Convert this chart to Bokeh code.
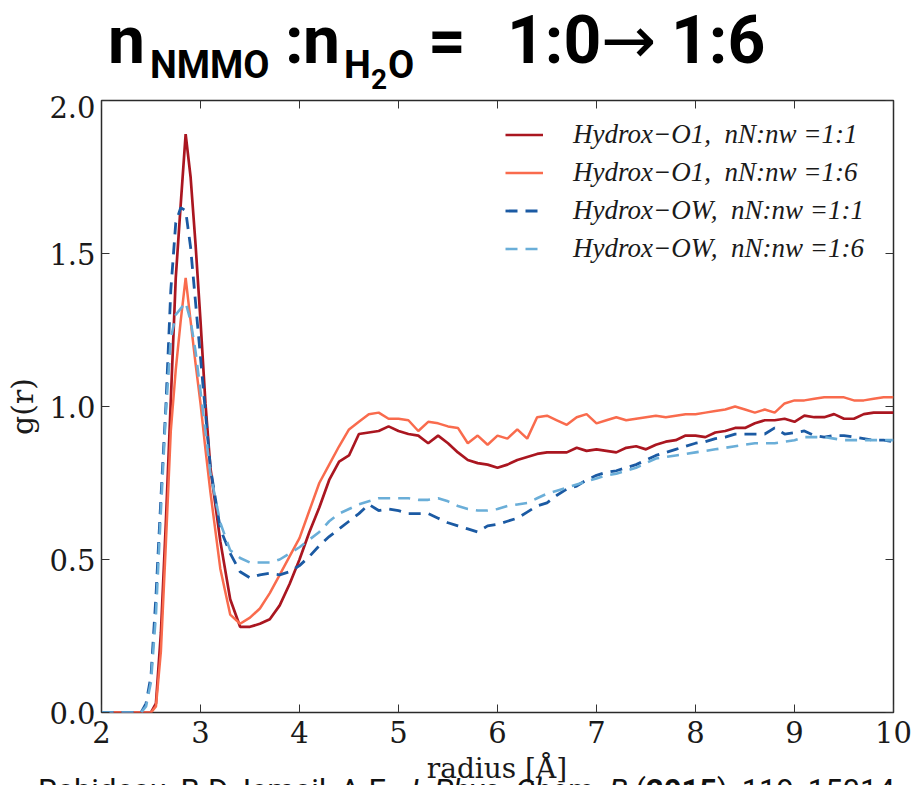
from bokeh.plotting import figure
from bokeh.layouts import column
from bokeh.models import (Range1d, LinearAxis, FixedTicker, Legend, LegendItem,
                          CustomJSTickFormatter, PrintfTickFormatter, Div)
from bokeh.embed import file_html
from bokeh.resources import INLINE

# ---------------- data ----------------
radius = [2.0, 2.4, 2.45, 2.5, 2.55, 2.6, 2.65, 2.7, 2.75, 2.8, 2.85, 2.9, 2.95, 3.0, 3.05, 3.1,
          3.2, 3.3, 3.4, 3.5, 3.6, 3.7, 3.8, 3.9, 4.0, 4.1, 4.2, 4.3, 4.4, 4.5, 4.6, 4.7, 4.8, 4.9,
          5.0, 5.1, 5.2, 5.3, 5.4, 5.5, 5.6, 5.7, 5.8, 5.9, 6.0, 6.1, 6.2, 6.3, 6.4, 6.5, 6.6, 6.7,
          6.8, 6.9, 7.0, 7.1, 7.2, 7.3, 7.4, 7.5, 7.6, 7.7, 7.8, 7.9, 8.0, 8.1, 8.2, 8.3, 8.4, 8.5,
          8.6, 8.7, 8.8, 8.9, 9.0, 9.1, 9.2, 9.3, 9.4, 9.5, 9.6, 9.7, 9.8, 9.9, 10.0]

# Hydrox-O1, nN:nw = 1:1
g_o1_11 = [0.0, 0.0, 0.0, 0.0, 0.03, 0.26, 0.62, 1.02, 1.42, 1.66, 1.89, 1.75, 1.53, 1.28, 1.01, 0.80,
           0.56, 0.37, 0.28, 0.28, 0.29, 0.305, 0.35, 0.42, 0.50, 0.59, 0.67, 0.76, 0.82, 0.84, 0.91, 0.915, 0.92, 0.935,
           0.92, 0.91, 0.905, 0.88, 0.905, 0.88, 0.85, 0.825, 0.815, 0.81, 0.80, 0.81, 0.825, 0.835, 0.845, 0.85, 0.85, 0.85,
           0.865, 0.855, 0.86, 0.855, 0.85, 0.865, 0.87, 0.86, 0.875, 0.885, 0.89, 0.905, 0.905, 0.90, 0.915, 0.92, 0.93, 0.93,
           0.945, 0.955, 0.955, 0.96, 0.95, 0.97, 0.965, 0.965, 0.975, 0.96, 0.96, 0.975, 0.98, 0.98, 0.98]

# Hydrox-O1, nN:nw = 1:6
g_o1_16 = [0.0, 0.0, 0.0, 0.0, 0.02, 0.20, 0.55, 0.92, 1.12, 1.28, 1.42, 1.28, 1.14, 1.01, 0.86, 0.72,
           0.47, 0.32, 0.29, 0.31, 0.34, 0.39, 0.45, 0.51, 0.57, 0.66, 0.75, 0.81, 0.87, 0.925, 0.95, 0.975, 0.98, 0.96,
           0.96, 0.955, 0.92, 0.95, 0.945, 0.935, 0.93, 0.88, 0.905, 0.875, 0.905, 0.895, 0.925, 0.895, 0.965, 0.97, 0.955, 0.94,
           0.965, 0.975, 0.945, 0.955, 0.965, 0.955, 0.96, 0.965, 0.97, 0.965, 0.97, 0.975, 0.975, 0.98, 0.985, 0.99, 1.0, 0.99,
           0.98, 0.99, 0.98, 1.01, 1.02, 1.02, 1.025, 1.03, 1.03, 1.03, 1.02, 1.02, 1.025, 1.03, 1.03]

# Hydrox-OW, nN:nw = 1:1
g_ow_11 = [0.0, 0.0, 0.03, 0.12, 0.38, 0.70, 1.00, 1.38, 1.60, 1.65, 1.64, 1.52, 1.34, 1.16, 0.98, 0.80,
           0.60, 0.52, 0.46, 0.44, 0.45, 0.455, 0.45, 0.46, 0.48, 0.51, 0.545, 0.575, 0.60, 0.625, 0.65, 0.68, 0.66, 0.665,
           0.66, 0.65, 0.65, 0.65, 0.635, 0.62, 0.61, 0.60, 0.59, 0.61, 0.615, 0.625, 0.635, 0.655, 0.675, 0.685, 0.71, 0.73,
           0.74, 0.76, 0.775, 0.785, 0.79, 0.80, 0.81, 0.825, 0.84, 0.85, 0.86, 0.87, 0.88, 0.885, 0.895, 0.90, 0.91, 0.91,
           0.91, 0.91, 0.93, 0.91, 0.915, 0.92, 0.905, 0.90, 0.905, 0.905, 0.90, 0.895, 0.89, 0.89, 0.885]

# Hydrox-OW, nN:nw = 1:6
g_ow_16 = [0.0, 0.0, 0.02, 0.10, 0.32, 0.66, 0.98, 1.22, 1.30, 1.32, 1.34, 1.28, 1.18, 1.05, 0.92, 0.78,
           0.62, 0.53, 0.505, 0.49, 0.49, 0.49, 0.50, 0.52, 0.54, 0.565, 0.59, 0.625, 0.65, 0.665, 0.68, 0.69, 0.70, 0.70,
           0.70, 0.70, 0.695, 0.695, 0.70, 0.69, 0.675, 0.665, 0.66, 0.66, 0.665, 0.675, 0.68, 0.685, 0.70, 0.715, 0.725, 0.735,
           0.745, 0.755, 0.765, 0.775, 0.78, 0.79, 0.80, 0.815, 0.83, 0.835, 0.84, 0.845, 0.85, 0.855, 0.86, 0.865, 0.87, 0.875,
           0.88, 0.88, 0.88, 0.885, 0.89, 0.90, 0.90, 0.90, 0.895, 0.89, 0.89, 0.89, 0.89, 0.89, 0.89]

series_labels = ["Hydrox\u2212O1,  nN:nw =1:1",
                 "Hydrox\u2212O1,  nN:nw =1:6",
                 "Hydrox\u2212OW,  nN:nw =1:1",
                 "Hydrox\u2212OW,  nN:nw =1:6"]
x_ticks = [2, 3, 4, 5, 6, 7, 8, 9, 10]
y_ticks = [0.0, 0.5, 1.0, 1.5, 2.0]
x_label = "radius [\u00c5]"
y_label = "g(r)"
citation_parts = ["Rabideau, B.D. Ismail, A.E. ", "J. Phys. Chem. B", " (", "2015", "), 119, 15014"]

# title pieces: n_NMMO : n_H2O = 1:0 -> 1:6
title_pieces = ["n", "NMMO", ":", "n", "H", "2", "O", "=", "1:0", "\u2192", "1:6"]

# ---------------- layout constants (page pixels) ----------------
PAGE_W = 912
TOP_H = 95          # title strip: page y 0..95
MAIN_H = 659        # plot: page y 95..754
BOT_H = 785 - TOP_H - MAIN_H   # bottom strip: page y 754..785
TICK_FONT = "DejaVu Serif"

# x, baseline y, font size, family, weight for each title piece
title_style = [(108, 63, 66, "Roboto", "bold"),
               (150, 78, 38, "Roboto", "bold"),
               (285, 63, 66, "Roboto", "bold"),
               (303, 63, 66, "Roboto", "bold"),
               (344, 78, 38, "Roboto", "bold"),
               (371, 89, 28, "Roboto", "bold"),
               (388, 78, 38, "Roboto", "bold"),
               (428, 63, 66, "Roboto", "bold"),
               (507, 63, 66, "Roboto", "bold"),
               (601, 63, 66, "DejaVu Sans", "normal"),
               (671, 63, 66, "Roboto", "bold")]


def css(size, family, weight, style="normal"):
    return (f"font-family:'{family}';font-size:{size}px;font-weight:{weight};"
            f"font-style:{style}")


def svg_text(txt, x, y, size, family, weight, anchor="start", color="#000"):
    return (f'<text x="{x}" y="{y}" text-anchor="{anchor}" fill="{color}" '
            f'style="{css(size, family, weight)}">{txt}</text>')


top_svg = (f'<svg xmlns="http://www.w3.org/2000/svg" width="{PAGE_W}" height="{TOP_H}" '
           f'style="display:block">'
           + "".join(svg_text(t, *s) for t, s in zip(title_pieces, title_style))
           + '</svg>')
top = Div(text=top_svg, width=PAGE_W, height=TOP_H, margin=(0, 0, 0, 0),
          styles={"overflow": "hidden", "background": "white"})

# ---------------- main plot ----------------
p = figure(width=PAGE_W, height=MAIN_H, output_backend="svg", toolbar_location=None,
           x_range=Range1d(2, 10), y_range=Range1d(0, 2),
           min_border_left=101, min_border_right=19, min_border_top=5, min_border_bottom=42,
           background_fill_color="white", border_fill_color="white")
p.grid.visible = False
p.outline_line_color = "#2a2a2a"
p.outline_line_width = 1.5


def style_axis(ax, ticks, show_labels):
    ax.ticker = FixedTicker(ticks=ticks, minor_ticks=[])
    ax.axis_line_color = None
    ax.major_tick_in = 8
    ax.major_tick_out = 0
    ax.major_tick_line_color = "#333333"
    ax.major_tick_line_width = 1
    ax.minor_tick_line_color = None
    ax.major_label_text_font = TICK_FONT
    ax.major_label_text_font_size = "29px"
    ax.major_label_text_color = "#1a1a1a"
    if not show_labels:
        ax.formatter = CustomJSTickFormatter(code="return ''")
        ax.major_label_standoff = 0
        ax.major_label_text_font_size = "0px"


xb = p.xaxis[0]
yl = p.yaxis[0]
style_axis(xb, x_ticks, True)
style_axis(yl, y_ticks, True)
yl.formatter = PrintfTickFormatter(format="%.1f")
xb.major_label_standoff = 8
yl.major_label_standoff = 6
yl.axis_label = y_label
yl.axis_label_text_font = TICK_FONT
yl.axis_label_text_font_size = "30px"
yl.axis_label_text_font_style = "normal"
yl.axis_label_text_color = "#1a1a1a"
yl.axis_label_standoff = 6

xt = LinearAxis()
style_axis(xt, x_ticks, False)
p.add_layout(xt, "above")
yr = LinearAxis()
style_axis(yr, y_ticks, False)
p.add_layout(yr, "right")

r1 = p.line(radius, g_o1_11, line_color="#aa1620", line_width=2.7)
r2 = p.line(radius, g_o1_16, line_color="#f96b4d", line_width=2.5)
r3 = p.line(radius, g_ow_11, line_color="#1b5aa3", line_width=2.8, line_dash="12 8")
r4 = p.line(radius, g_ow_16, line_color="#6aaed8", line_width=2.6, line_dash="12 8")

legend = Legend(items=[LegendItem(label=series_labels[0], renderers=[r1]),
                       LegendItem(label=series_labels[1], renderers=[r2]),
                       LegendItem(label=series_labels[2], renderers=[r3]),
                       LegendItem(label=series_labels[3], renderers=[r4])],
                location=(404, 445), border_line_alpha=0, background_fill_alpha=0,
                label_text_font="Liberation Serif", label_text_font_style="italic",
                label_text_font_size="27px", label_text_color="#1a1a1a",
                glyph_width=38, glyph_height=37, label_height=37, label_standoff=30,
                spacing=1, padding=0, margin=0)
p.add_layout(legend)

# ---------------- bottom strip: x-axis title and (cut-off) citation ----------------
Y0 = TOP_H + MAIN_H
cit_styles = ["normal", "italic", "normal", "bold", "normal"]
cit_spans = "".join(
    f'<tspan style="{css(31, "Roboto", "bold" if s == "bold" else "normal", "italic" if s == "italic" else "normal")}">{t}</tspan>'
    for t, s in zip(citation_parts, cit_styles))
bot_svg = (f'<svg xmlns="http://www.w3.org/2000/svg" width="{PAGE_W}" height="{BOT_H}" '
           f'style="display:block;overflow:visible">'
           + svg_text(x_label, 497, 778 - Y0, 28, TICK_FONT, "normal", anchor="middle", color="#1a1a1a")
           + f'<text x="38" y="{801 - Y0}" fill="#111111" style="{css(31, "Roboto", "normal")}">'
           + cit_spans + '</text>'
           + '</svg>')
bot = Div(text=bot_svg, width=PAGE_W, height=BOT_H, margin=(0, 0, 0, 0),
          styles={"overflow": "visible"})

layout = column(top, p, bot, spacing=0)
open("out.html", "w").write(file_html(layout, INLINE))
